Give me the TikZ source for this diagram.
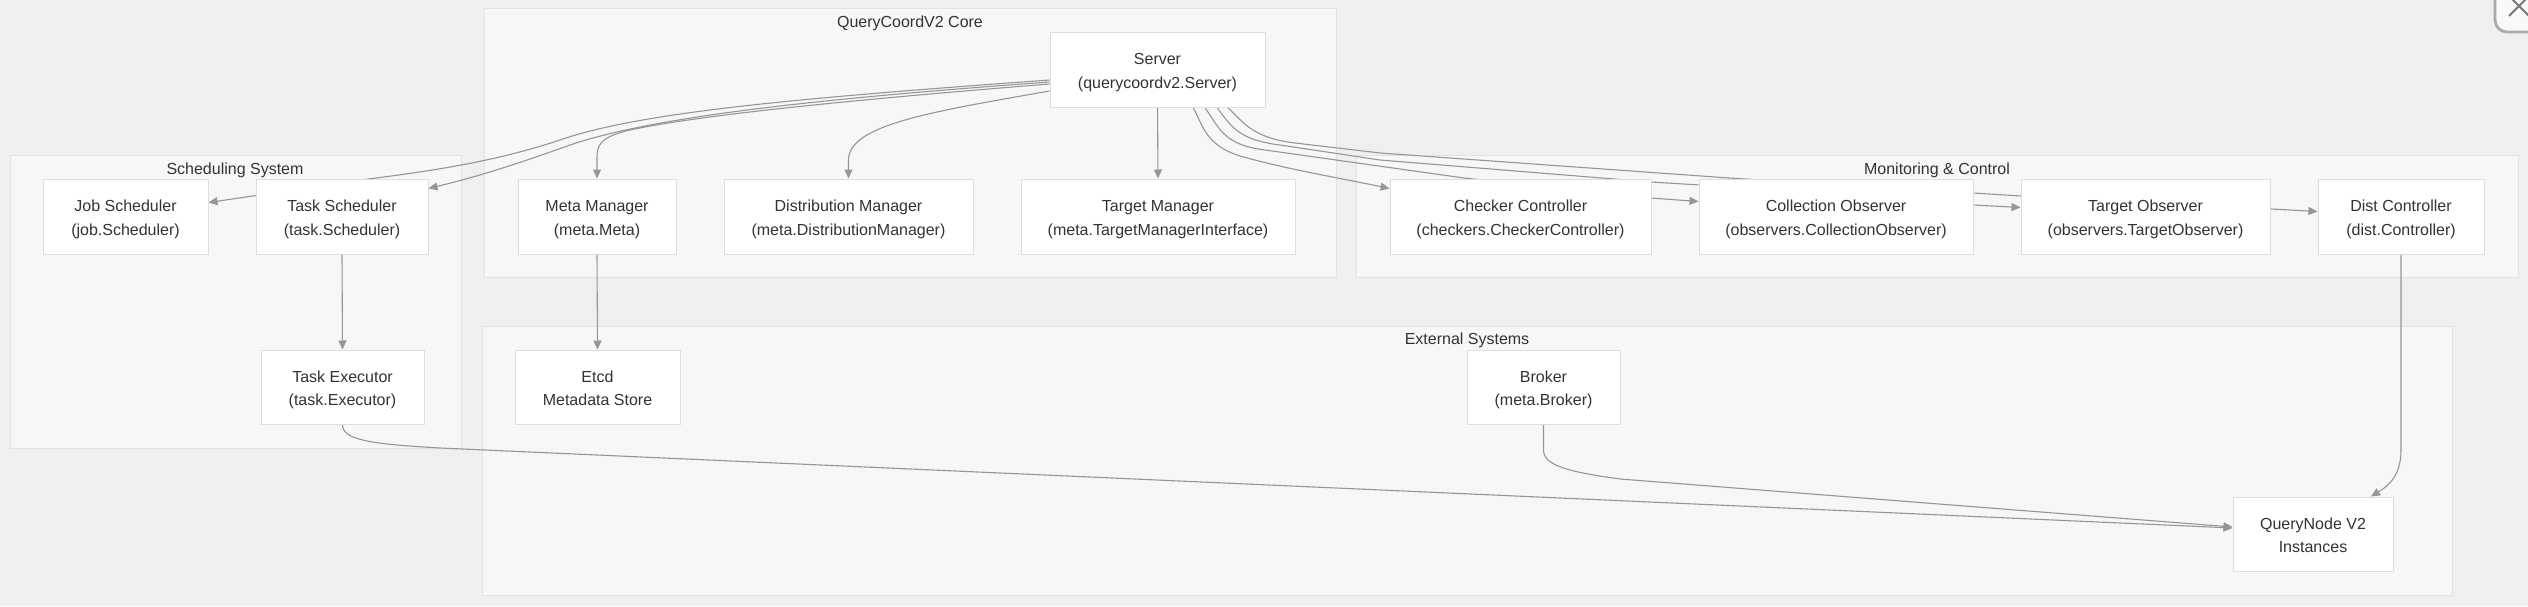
\documentclass[tikz,border=0pt]{standalone}
\usepackage{fontspec}
\setmainfont{Liberation Sans}
\usetikzlibrary{arrows.meta,calc}
\definecolor{bgc}{RGB}{240,239,237}
\definecolor{clfill}{RGB}{247,247,247}
\definecolor{cldraw}{RGB}{226,226,226}
\definecolor{nddraw}{RGB}{222,222,222}
\definecolor{edgec}{RGB}{150,150,150}
\definecolor{txt}{RGB}{51,51,51}
\definecolor{btn}{RGB}{170,170,170}
\newcommand{\tw}[2]{\rule{0pt}{9pt}#1\\#2\rule[-2.2pt]{0pt}{2.2pt}}
\pgfdeclarelayer{bg}
\pgfdeclarelayer{edges}
\pgfsetlayers{bg,edges,main}
\tikzset{
  box/.style={draw=nddraw,fill=white,line width=0.5pt,inner sep=0pt,align=center,
    text=txt,font=\fontsize{8}{11.75}\selectfont,minimum height=37.5pt},
  cluster/.style={draw=cldraw,fill=clfill,line width=0.5pt},
  cltitle/.style={text=txt,font=\fontsize{8}{10}\selectfont,inner sep=0pt},
  edge/.style={draw=edgec,line width=0.55pt,-{Triangle[length=4.5pt,width=4pt]}},
}
\begin{document}
\begin{tikzpicture}[x=0.5pt,y=-0.5pt]
\useasboundingbox (0,0) rectangle (2528,606);
% nodes
\node[box,minimum width=107.5pt] (server) at (1157.5,69.5) {\tw{Server}{(querycoordv2.Server)}};
\node[box,minimum width=82.5pt] (job) at (125.5,216.5) {\tw{Job Scheduler}{(job.Scheduler)}};
\node[box,minimum width=86pt] (tasks) at (342,216.5) {\tw{Task Scheduler}{(task.Scheduler)}};
\node[box,minimum width=79pt] (meta) at (597,216.5) {\tw{Meta Manager}{(meta.Meta)}};
\node[box,minimum width=124.5pt] (distm) at (848.5,216.5) {\tw{Distribution Manager}{(meta.DistributionManager)}};
\node[box,minimum width=137pt] (targetm) at (1158,216.5) {\tw{Target Manager}{(meta.TargetManagerInterface)}};
\node[box,minimum width=130.5pt] (checker) at (1520.5,216.5) {\tw{Checker Controller}{(checkers.CheckerController)}};
\node[box,minimum width=137pt] (collobs) at (1836,216.5) {\tw{Collection Observer}{(observers.CollectionObserver)}};
\node[box,minimum width=124.5pt] (tgtobs) at (2145.5,216.5) {\tw{Target Observer}{(observers.TargetObserver)}};
\node[box,minimum width=83pt] (distc) at (2401,216.5) {\tw{Dist Controller}{(dist.Controller)}};
\node[box,minimum width=81.5pt,minimum height=37pt] (taskexec) at (342.5,387) {\tw{Task Executor}{(task.Executor)}};
\node[box,minimum width=82.5pt,minimum height=37pt] (etcd) at (597.5,387) {\tw{Etcd}{Metadata Store}};
\node[box,minimum width=76.5pt,minimum height=37pt] (broker) at (1543.5,387) {\tw{Broker}{(meta.Broker)}};
\node[box,minimum width=80pt,minimum height=37pt] (qn) at (2313,534) {\tw{QueryNode V2}{Instances}};

\begin{pgfonlayer}{bg}
\fill[bgc] (0,0) rectangle (2528,606);
\draw[cluster] (484,8) rectangle (1336,277);
\draw[cluster] (10,155) rectangle (461,448);
\draw[cluster] (1356,155) rectangle (2518,277);
\draw[cluster] (482,326) rectangle (2452,595);
\node[cltitle] (tcore) at (910,23) {QueryCoordV2 Core};
\node[cltitle] (tsched) at (235,170) {Scheduling System};
\node[cltitle] (tmon) at (1937,170) {Monitoring \& Control};
\node[cltitle] (text) at (1467,340) {External Systems};
% close button artifact
\begin{scope}
\clip (2440,0) rectangle (2528,40);
\draw[btn,line width=1.4pt,fill=white!60!bgc,rounded corners=6pt] (2495,-20) rectangle (2580,32);
\draw[btn!70!black,line width=1pt] (2509,16) -- (2527,-2);
\draw[btn!70!black,line width=1pt] (2511,-2) -- (2529,16);
\end{scope}
\end{pgfonlayer}

\begin{pgfonlayer}{edges}
% Server to the left
\draw[edge] ($(server.west)+(0,10.5)$) .. controls (800,98) and (640,112) .. (560,140)
  .. controls (500,160) and (440,170) .. (368,179) -- ($(job.north east)+(0,24)$);
\draw[edge] ($(server.west)+(0,12.5)$) .. controls (800,100) and (650,118) .. (570,145)
  .. controls (520,163) and (480,176) .. ($(tasks.north east)+(0,10)$);
\draw[edge] ($(server.west)+(0,14.5)$) .. controls (850,100) and (700,115) .. (630,130)
  .. controls (600,137) and (597,145) .. (597,158) -- (meta.north);
\draw[edge] ($(server.west)+(0,21.5)$) .. controls (930,112) and (848.5,125) .. (848.5,160) -- (distm.north);
\draw[edge] (server.south) -- (targetm.north);
% Server to the right
\draw[edge] ($(server.south)+(35.5,0)$) .. controls (1203,125) and (1205,145) .. (1240,156)
  .. controls (1290,170) and (1340,178) .. ($(checker.north west)+(0,10)$);
\draw[edge] ($(server.south)+(47.5,0)$) .. controls (1220,130) and (1225,145) .. (1265,150)
  -- (1464,178) -- (1651,198) -- ($(collobs.north west)+(0,23)$);
\draw[edge] ($(server.south)+(59.5,0)$) .. controls (1232,128) and (1240,140) .. (1280,145)
  -- (1380,160) -- (1651,182) -- (1700,185) -- (1973,205) -- ($(tgtobs.north west)+(0,29)$);
\draw[edge] ($(server.south)+(70.5,0)$) .. controls (1245,125) and (1255,138) .. (1295,143)
  -- (1380,153) -- (1729,178) -- (1973,193) -- (2021,196) -- (2271,209) -- ($(distc.north west)+(0,33)$);
% vertical ones
\draw[edge] (tasks.south) -- (taskexec.north);
\draw[edge] (meta.south) -- (etcd.north);
% to QueryNode
\draw[edge] (taskexec.south) .. controls (342.5,440) and (370,444) .. (440,448) -- ($(qn.west)+(0,-6)$);
\draw[edge] (broker.south) -- (1543.5,450) .. controls (1543.5,466) and (1570,472) .. (1620,479) -- ($(qn.west)+(0,-7)$);
\draw[edge] (distc.south) -- (2401,450) .. controls (2401,476) and (2388,486) .. ($(qn.north)+(58,0)$);
\end{pgfonlayer}
\end{tikzpicture}
\end{document}
